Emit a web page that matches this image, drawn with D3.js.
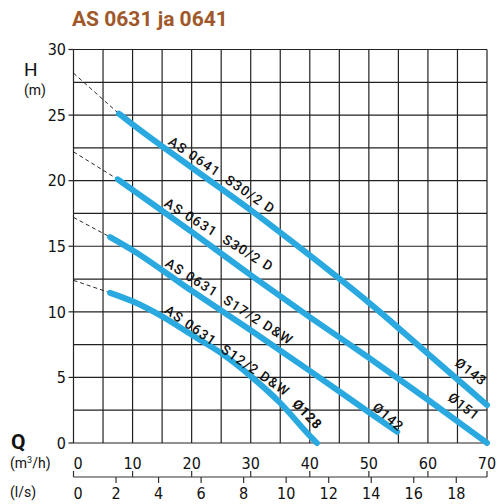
<!DOCTYPE html>
<html><head><meta charset="utf-8">
<script src="https://cdn.jsdelivr.net/npm/d3@7"></script>
<style>
html,body{margin:0;padding:0;background:#fff;}
svg{display:block;}
text{font-family:Roboto, "DejaVu Sans", sans-serif;}
text.tk{font-family:"Liberation Sans Narrow","DejaVu Sans Condensed",Roboto,sans-serif;}
</style></head>
<body>
<svg id="chart" width="497" height="504"></svg>
<script>
// ---- data ----
const flowTicks = [0,10,20,30,40,50,60,70];        // m3/h labels
const lsTicks = [0,2,4,6,8,10,12,14,16,18];         // l/s labels
const headTicks = [0,5,10,15,20,25,30];             // m labels

const q1 = [7.7, 10, 20, 30, 40, 50, 60, 70];
const h1 = [25.1, 24.3, 21.0, 17.75, 14.3, 10.7, 6.8, 2.9];
const q2 = [7.5, 10, 20, 30, 40, 50, 60, 70];
const h2 = [20.1, 19.3, 16.1, 12.8, 9.6, 6.5, 3.3, 0];
const q3 = [6.2, 10, 20, 30, 40, 50, 54.8];
const h3 = [15.7, 14.7, 11.6, 8.6, 5.5, 2.35, 0.85];
const q4 = [6.2, 10, 15, 20, 25, 30, 35, 40, 41.2];
const h4 = [11.45, 10.8, 9.65, 8.25, 6.85, 5.1, 3.05, 0.55, 0];
const shutoffHead = [28.2, 22.2, 17.2, 12.4];      // dashed extension to Q=0

const curveNames = ["AS 0641  S30/2 D","AS 0631  S30/2 D","AS 0631  S17/2 D&W","AS 0631  S12/2 D&W"];
const impellers = ["Ø143","Ø151","Ø142","Ø128"];

// ---- layout ----
const svg = d3.select("#chart");
const x = d3.scaleLinear().domain([0,70]).range([73.5,487]);
const y = d3.scaleLinear().domain([0,30]).range([443,49.5]);
const xls = d3.scaleLinear().domain([0,70/3.6]).range([73.5,487]);
const lineColor = "#29a9e0";

// title
svg.append("text").attr("x",72).attr("y",26).attr("font-size",21).attr("font-weight","bold")
  .attr("font-family","'Liberation Sans', Arial, sans-serif").attr("fill","#a0582a").text("AS 0631 ja 0641");

// grid
const g = svg.append("g");
g.selectAll("line.v").data(d3.range(0,70.01,5)).join("line")
  .attr("x1",d=>x(d)).attr("x2",d=>x(d)).attr("y1",y(30)).attr("y2",y(0))
  .attr("stroke","#222").attr("stroke-width",1.2);
g.selectAll("line.h").data(d3.range(0,30.01,2.5)).join("line")
  .attr("x1",x(0)).attr("x2",x(70)).attr("y1",d=>y(d)).attr("y2",d=>y(d))
  .attr("stroke","#222").attr("stroke-width",1.2);
// y ticks
g.selectAll("line.yt").data(headTicks).join("line")
  .attr("x1",x(0)-5).attr("x2",x(0)).attr("y1",d=>y(d)).attr("y2",d=>y(d))
  .attr("stroke","#222").attr("stroke-width",1.2);
svg.append("g").selectAll("text").data(headTicks).join("text").attr("class","tk")
  .attr("x",66).attr("y",d=>y(d)).attr("dy","0.36em").attr("text-anchor","end")
  .attr("font-size",16).attr("fill","#111").text(d=>d);

// axis titles
svg.append("text").attr("x",24).attr("y",76).attr("font-size",19).attr("fill","#111").text("H");
svg.append("text").attr("x",24).attr("y",95).attr("font-size",14).attr("fill","#111").text("(m)");
svg.append("text").attr("x",11).attr("y",449).attr("font-size",21).attr("font-weight","bold").attr("fill","#111").text("Q");
svg.append("text").attr("x",10).attr("y",468).attr("font-size",14).attr("fill","#111")
  .html('(m<tspan dy="-5" font-size="9">3</tspan><tspan dy="5">/h)</tspan>');
svg.append("text").attr("x",10).attr("y",497).attr("font-size",14).attr("fill","#111").text("(l/s)");

// bottom axes
const axY = 477;
svg.append("line").attr("x1",x(0)).attr("x2",x(70)).attr("y1",axY).attr("y2",axY).attr("stroke","#333").attr("stroke-width",1.2);
svg.append("g").selectAll("line").data(flowTicks).join("line")
  .attr("x1",d=>x(d)).attr("x2",d=>x(d)).attr("y1",axY).attr("y2",axY-6).attr("stroke","#333").attr("stroke-width",1.2);
svg.append("g").selectAll("line").data(lsTicks.filter(d=>d>0)).join("line")
  .attr("x1",d=>xls(d)).attr("x2",d=>xls(d)).attr("y1",axY).attr("y2",axY+6).attr("stroke","#333").attr("stroke-width",1.2);
svg.append("g").selectAll("text").data(flowTicks).join("text").attr("class","tk")
  .attr("x",d=>x(d)).attr("y",469).attr("text-anchor",d=>d===0?"start":"middle")
  .attr("font-size",16).attr("fill","#111").text(d=>d);
svg.append("g").selectAll("text").data(lsTicks).join("text").attr("class","tk")
  .attr("x",d=>d===0?x(0):xls(d)).attr("y",499).attr("text-anchor",d=>d===0?"start":"middle")
  .attr("font-size",16).attr("fill","#111").text(d=>d);

// curves
const series = [[q1,h1],[q2,h2],[q3,h3],[q4,h4]];
const line = d3.line().x(d=>x(d[0])).y(d=>y(d[1])).curve(d3.curveMonotoneX);
series.forEach(([qs,hs],i)=>{
  const pts = qs.map((q,j)=>[q,hs[j]]);
  svg.append("path").attr("d",d3.line().x(d=>x(d[0])).y(d=>y(d[1]))([[0,shutoffHead[i]],pts[0]]))
    .attr("stroke","#111").attr("stroke-width",0.9).attr("stroke-dasharray","4,3").attr("fill","none");
  svg.append("path").attr("d",line(pts)).attr("stroke",lineColor).attr("stroke-width",6)
    .attr("stroke-linecap","round").attr("fill","none");
});

// labels (annotation placement)
const nameLabels = [
  {t:curveNames[0], q:25.14, h:20.43, a:34.1},
  {t:curveNames[1], q:24.66, h:15.88, a:32},
  {t:curveNames[2], q:26.41, h:10.79, a:32.6},
  {t:curveNames[3], q:26.07, h:7.04, a:34.7}
];
const diaLabels = [
  {t:impellers[0], q:67.3, h:5.45, a:38, b:false},
  {t:impellers[1], q:66.1, h:2.8, a:38, b:false},
  {t:impellers[2], q:53.3, h:2.0, a:40, b:false},
  {t:impellers[3], q:39.6, h:2.2, a:46, b:true}
];
svg.append("g").selectAll("text").data(nameLabels).join("text")
  .attr("transform",d=>`translate(${x(d.q)},${y(d.h)}) rotate(${d.a})`)
  .attr("text-anchor","middle").attr("dy","0.36em").attr("font-size",13.5).attr("font-weight",500)
  .attr("letter-spacing",1.2).attr("fill","#111").style("white-space","pre").text(d=>d.t);
svg.append("g").selectAll("text").data(diaLabels).join("text")
  .attr("transform",d=>`translate(${x(d.q)},${y(d.h)}) rotate(${d.a})`)
  .attr("text-anchor","middle").attr("dy","0.36em").attr("font-size",13.5)
  .attr("font-weight",d=>d.b?"bold":500)
  .attr("letter-spacing",0.8).attr("fill","#111").text(d=>d.t);
</script>
</body></html>
